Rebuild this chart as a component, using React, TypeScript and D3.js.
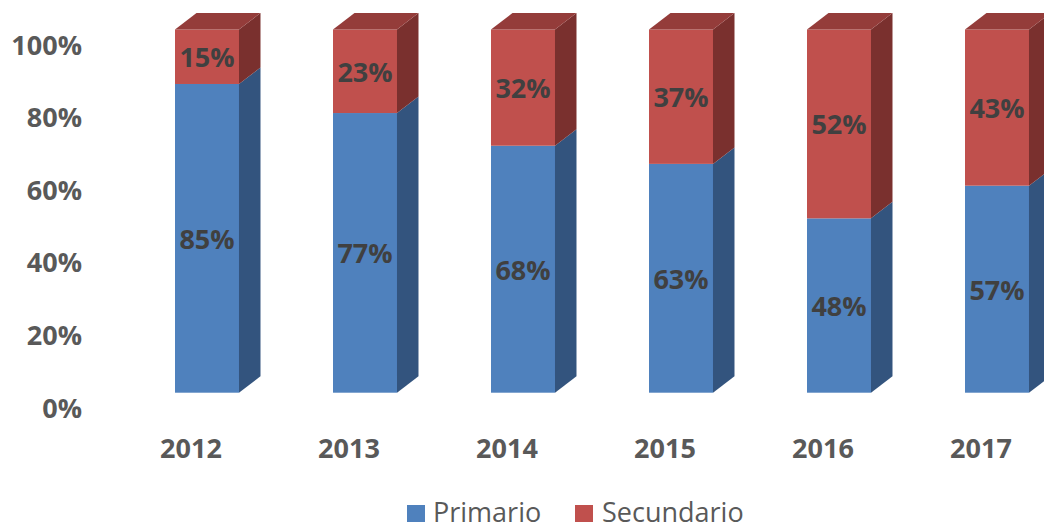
import React from "react";
import * as d3 from "d3";

const categories = ["2012", "2013", "2014", "2015", "2016", "2017"];
const primario = [85, 77, 68, 63, 48, 57];
const secundario = [15, 23, 32, 37, 52, 43];
const yTicks = [0, 20, 40, 60, 80, 100];
const seriesNames = ["Primario", "Secundario"];

const W = 1044;
const H = 524;
const DX = 21.5;
const DY = 16.5;

const colors = [
  { front: "#4F81BD", side: "#33547E", top: "#3F6797" },
  { front: "#C0504D", side: "#7A302E", top: "#943C3A" },
];

export default function App() {
  const x = d3
    .scaleBand<string>()
    .domain(categories)
    .range([128, 1076])
    .paddingInner(0.595)
    .paddingOuter(0.2975);
  const y = d3.scaleLinear().domain([0, 100]).range([392.7, 29.5]);
  const bw = x.bandwidth();

  const stackData = categories.map((c, i) => ({ cat: c, Primario: primario[i], Secundario: secundario[i] }));
  const stack = d3.stack<any>().keys(seriesNames)(stackData);

  const label = { fontFamily: "'Open Sans', sans-serif", fontWeight: 700, fontSize: 27 };

  return (
    <svg width={W} height={H} style={{ position: "absolute", left: 0, top: 0, background: "#fff" }}>
      {/* y axis labels */}
      {yTicks.map((t) => (
        <text key={t} x={82} y={y(t) + 14.5} textAnchor="end" dominantBaseline="central" fill="#595959" {...label}>
          {t}%
        </text>
      ))}
      {/* bars */}
      {categories.map((c, i) => {
        const x0 = x(c)!;
        const x1 = x0 + bw;
        return (
          <g key={c}>
            {stack.map((s, si) => {
              const [v0, v1] = s[i];
              const yb = y(v0);
              const yt = y(v1);
              const col = colors[si];
              const isTop = si === stack.length - 1;
              return (
                <g key={si}>
                  <rect x={x0} y={yt} width={bw} height={yb - yt} fill={col.front} />
                  <path
                    d={`M${x1},${yb}L${x1 + DX},${yb - DY}L${x1 + DX},${yt - DY}L${x1},${yt}Z`}
                    fill={col.side}
                  />
                  {isTop && (
                    <path
                      d={`M${x0},${yt}L${x0 + DX},${yt - DY}L${x1 + DX},${yt - DY}L${x1},${yt}Z`}
                      fill={col.top}
                    />
                  )}
                  <text
                    x={x0 + bw / 2}
                    y={(yb + yt) / 2}
                    textAnchor="middle"
                    dominantBaseline="central"
                    fill="#404040"
                    {...label}
                  >
                    {si === 0 ? primario[i] : secundario[i]}%
                  </text>
                </g>
              );
            })}
          </g>
        );
      })}
      {/* x labels */}
      {categories.map((c) => (
        <text key={c} x={x(c)! + bw / 2 - 16} y={447} textAnchor="middle" dominantBaseline="central" fill="#595959" {...label}>
          {c}
        </text>
      ))}
      {/* legend */}
      <rect x={407} y={505} width={18} height={17} fill={colors[0].front} />
      <text x={433} y={522} fill="#595959" fontFamily="'Open Sans', sans-serif" fontSize={27}>
        {seriesNames[0]}
      </text>
      <rect x={575} y={505} width={18} height={17} fill={colors[1].front} />
      <text x={602} y={522} fill="#595959" fontFamily="'Open Sans', sans-serif" fontSize={27}>
        {seriesNames[1]}
      </text>
    </svg>
  );
}
